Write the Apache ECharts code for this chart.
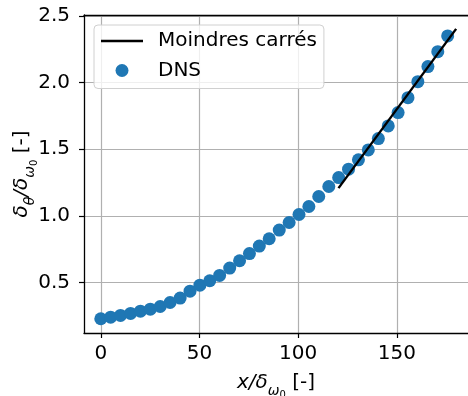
<!DOCTYPE html>
<html>
<head>
<meta charset="utf-8">
<script src="https://cdn.jsdelivr.net/npm/echarts@6.0.0/dist/echarts.min.js"></script>
<style>
  html, body { margin: 0; padding: 0; background: #fff; }
  #chart { width: 468px; height: 396px; }
</style>
</head>
<body>
<div id="chart"></div>
<script>
// DNS points (x / delta_w0, delta_theta / delta_w0)
var dnsX = [0, 5.0, 10.0, 15.1, 20.1, 25.1, 30.1, 35.1, 40.2, 45.2, 50.2, 55.2,
            60.2, 65.3, 70.3, 75.3, 80.3, 85.3, 90.4, 95.4, 100.4, 105.4, 110.4, 115.5,
            120.5, 125.5, 130.5, 135.5, 140.6, 145.6, 150.6, 155.6, 160.6, 165.7, 170.7, 175.7];
var dnsY = [0.228, 0.240, 0.253, 0.268, 0.285, 0.300, 0.320, 0.350, 0.383, 0.435, 0.480, 0.513,
            0.553, 0.608, 0.663, 0.717, 0.773, 0.828, 0.893, 0.950, 1.010, 1.070, 1.145, 1.220,
            1.287, 1.350, 1.420, 1.495, 1.580, 1.675, 1.775, 1.887, 2.007, 2.120, 2.232, 2.350];
// least squares fit line, end points
var fitX = [120.4, 180];
var fitY = [1.208, 2.403];
var xTicks = [0, 50, 100, 150];
var yTicks = [0.5, 1.0, 1.5, 2.0, 2.5];

var FONT = 'DejaVu Sans';
var subRich = {
  m: { fontSize: 20, fontStyle: 'italic', fontFamily: FONT, color: '#000', lineHeight: 24, verticalAlign: 'top' },
  t: { fontSize: 20, fontFamily: FONT, color: '#000', lineHeight: 24, verticalAlign: 'top' },
  s: { fontSize: 14, fontStyle: 'italic', fontFamily: FONT, color: '#000', lineHeight: 14, verticalAlign: 'top', padding: [11, 0, 0, 0] },
  ss: { fontSize: 10, fontFamily: FONT, color: '#000', lineHeight: 10, verticalAlign: 'top', padding: [17, 0, 0, 0] }
};

var myChart = echarts.init(document.getElementById('chart'), null, { renderer: 'canvas' });

var dnsData = dnsX.map(function (x, i) { return [x, dnsY[i]]; });
var fitData = fitX.map(function (x, i) { return [x, fitY[i]]; });

var option = {
  animation: false,
  backgroundColor: '#fff',
  textStyle: { fontFamily: FONT },
  grid: { left: 84, right: 0, top: 15, bottom: 63, outerBoundsMode: 'none', containLabel: false },
  legend: {
    orient: 'vertical',
    left: 94, top: 25,
    padding: [6, 7, 8, 7],
    itemWidth: 42, itemHeight: 13, itemGap: 9.5,
    backgroundColor: 'rgba(255,255,255,0.8)',
    borderColor: '#d0d0d0', borderWidth: 1, borderRadius: 4,
    textStyle: { fontSize: 20, fontFamily: FONT, color: '#000', lineHeight: 20, padding: [0, 0, 0, 10] },
    data: [
      { name: 'Moindres carrés', icon: 'path://M0,0H42V2.4H0Z' },
      { name: 'DNS', icon: 'circle' }
    ]
  },
  xAxis: [{
    type: 'value', min: -8.5, max: 186,
    axisLine: { show: true, onZero: false, lineStyle: { color: '#000', width: 1.3 } },
    axisTick: { show: true, inside: false, length: 5, customValues: xTicks, lineStyle: { color: '#000', width: 1.2 } },
    axisLabel: { customValues: xTicks, margin: 11, fontSize: 20, fontFamily: FONT, color: '#000' },
    splitLine: { show: true, lineStyle: { color: '#b0b0b0', width: 1.2 } },
    name: '{m|x/δ}{s|ω}{ss|0}{t| [-]}',
    nameLocation: 'middle', nameGap: 40, nameMoveOverlap: false,
    nameTextStyle: { rich: subRich }
  }, {
    type: 'value', position: 'top', min: -8.5, max: 186,
    axisLine: { show: true, onZero: false, lineStyle: { color: '#000', width: 1.3 } },
    axisTick: { show: false }, axisLabel: { show: false }, splitLine: { show: false }
  }],
  yAxis: {
    type: 'value', min: 0.121, max: 2.507,
    axisLine: { show: true, onZero: false, lineStyle: { color: '#000', width: 1.3 } },
    axisTick: { show: true, inside: false, length: 5, customValues: yTicks, lineStyle: { color: '#000', width: 1.2 } },
    axisLabel: {
      customValues: yTicks, margin: 14, fontSize: 20, fontFamily: FONT, color: '#000',
      formatter: function (v) { return v.toFixed(1); }
    },
    splitLine: { show: true, lineStyle: { color: '#b0b0b0', width: 1.2 } },
    name: '{m|δ}{s|θ}{m|/δ}{s|ω}{ss|0}{t| [-]}',
    nameLocation: 'middle', nameGap: 48, nameRotate: 90, nameMoveOverlap: false,
    nameTextStyle: { rich: subRich }
  },
  series: [{
    name: 'DNS', type: 'scatter', xAxisIndex: 0,
    symbol: 'circle', symbolSize: 13,
    itemStyle: { color: '#1f77b4', opacity: 1 },
    data: dnsData, z: 2
  }, {
    name: 'Moindres carrés', type: 'line', xAxisIndex: 0,
    symbol: 'none', color: '#000',
    lineStyle: { color: '#000', width: 2.4 },
    data: fitData, z: 3
  }]
};
myChart.setOption(option);
window.addEventListener('resize', function () { myChart.resize(); });
</script>
</body>
</html>
